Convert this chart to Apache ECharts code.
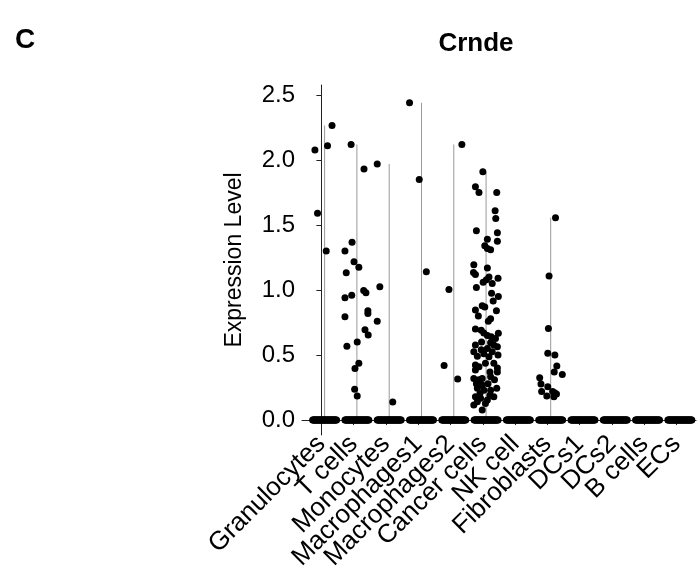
<!DOCTYPE html>
<html>
<head>
<meta charset="utf-8">
<script src="https://cdn.jsdelivr.net/npm/echarts@6/dist/echarts.min.js"></script>
<style>
html, body { margin: 0; padding: 0; background: #fff; }
#chart { width: 699px; height: 586px; }
</style>
</head>
<body>
<div id="chart"></div>
<script>
const cellTypes = ['Granulocytes', 'T cells', 'Monocytes', 'Macrophages1', 'Macrophages2', 'Cancer cells',
	'NK cell', 'Fibroblasts', 'DCs1', 'DCs2', 'B cells', 'ECs'];
const yTicks = [0, 0.5, 1, 1.5, 2, 2.5];
// cells with zero expression, drawn as a packed row of dots
const zeroCounts = [40, 40, 40, 40, 40, 40, 40, 40, 40, 40, 40, 40];

// expressing cells: [jitter, expression level]
const granulocytes = [[-0.30, 2.077], [0.09, 2.11], [0.23, 2.265], [-0.22, 1.59], [0.05, 1.30]];
const tCells = [[-0.18, 2.12], [0.22, 1.93], [-0.37, 1.30], [-0.15, 1.367], [-0.09, 1.218], [0.06, 1.175],
	[-0.33, 1.133], [-0.37, 0.94], [-0.16, 0.96], [-0.37, 0.795], [-0.31, 0.567], [0.01, 0.60],
	[-0.06, 0.397], [0.06, 0.436], [-0.07, 0.236], [0.01, 0.185], [0.21, 0.997], [0.28, 0.98],
	[0.34, 0.84], [0.34, 0.82], [0.25, 0.695], [0.35, 0.654]];
const monocytes = [[-0.37, 1.97], [-0.29, 1.025], [-0.37, 0.76], [0.11, 0.138]];
const macrophages1 = [[-0.37, 2.44], [-0.07, 1.85], [0.15, 1.14]];
const macrophages2 = [[0.25, 2.12], [-0.15, 1.005], [-0.30, 0.42], [0.12, 0.315]];
const cancerCells = [[-0.10, 1.91], [-0.33, 1.795], [-0.22, 1.75], [0.33, 1.75], [0.28, 1.61], [0.30, 1.55],
	[-0.30, 1.456], [0.04, 1.39], [0.35, 1.44], [0.35, 1.375], [-0.04, 1.34], [0.04, 1.32], [0.14, 1.31],
	[-0.38, 1.195], [-0.39, 1.135], [-0.33, 1.12], [0.04, 1.17], [0.09, 1.10], [-0.09, 1.06], [0.01, 1.08],
	[0.19, 1.05], [0.37, 1.09], [-0.30, 1.02], [0.17, 0.975], [0.38, 0.95], [0.22, 0.915], [-0.12, 0.88],
	[-0.04, 0.87], [-0.33, 0.846], [-0.24, 0.80], [0.32, 0.84], [0.14, 0.78], [0.07, 0.76], [-0.33, 0.70],
	[-0.15, 0.69], [0.38, 0.667], [-0.07, 0.67], [0.04, 0.65], [0.16, 0.64], [0.29, 0.628], [-0.14, 0.60],
	[-0.33, 0.577], [0.14, 0.595], [0.24, 0.577], [0.35, 0.564], [-0.38, 0.525], [-0.15, 0.54], [0.04, 0.55],
	[0.19, 0.525], [0.37, 0.50], [-0.27, 0.49], [-0.07, 0.51], [0.09, 0.487], [-0.33, 0.423], [-0.22, 0.41],
	[-0.02, 0.436], [0.24, 0.436], [0.35, 0.40], [-0.33, 0.385], [0.12, 0.37], [0.35, 0.37], [-0.38, 0.32],
	[-0.22, 0.31], [-0.12, 0.32], [0.14, 0.333], [0.26, 0.31], [-0.30, 0.28], [-0.12, 0.27], [0.06, 0.28],
	[0.33, 0.244], [-0.27, 0.244], [-0.07, 0.23], [0.14, 0.23], [0.24, 0.18], [-0.33, 0.18], [-0.17, 0.167],
	[0.04, 0.154], [-0.38, 0.115], [-0.27, 0.14], [-0.02, 0.128], [-0.12, 0.077], [0.12, 0.19], [-0.19, 0.205]];
const nkCell = [];
const fibroblasts = [[0.15, 1.556], [-0.05, 1.108], [-0.07, 0.705], [-0.09, 0.513], [0.13, 0.50], [0.19, 0.415],
	[0.11, 0.37], [0.36, 0.35], [-0.34, 0.325], [-0.30, 0.277], [-0.09, 0.256], [-0.28, 0.22], [0.06, 0.22],
	[0.12, 0.21], [0.18, 0.20], [-0.12, 0.185], [0.10, 0.18]];
const dcs1 = [];
const dcs2 = [];
const bCells = [];
const ecs = [];

const expressed = [granulocytes, tCells, monocytes, macrophages1, macrophages2, cancerCells,
	nkCell, fibroblasts, dcs1, dcs2, bCells, ecs];

const FONT = 'Liberation Sans, Arial, Helvetica, sans-serif';
const SHIFT = 0.1; // points/violins sit slightly right of the tick
const ZERO_SPREAD = 0.37;
const X_MIN = -0.6;
const X_MAX = cellTypes.length - 1 + 0.6;

let points = [];
let violins = [];
expressed.forEach((cells, i) => {
	let c = i + SHIFT;
	let n = zeroCounts[i];
	for (let k = 0; k < n; k++) {
		points.push([c - ZERO_SPREAD + (2 * ZERO_SPREAD * k) / (n - 1), 0]);
	}
	cells.forEach(p => points.push([c + p[0], p[1]]));
	if (cells.length) {
		violins.push([c, Math.max(...cells.map(p => p[1]))]);
	}
});

let tickPos = cellTypes.map((c, i) => i);
// blank labels at both ends so echarts does not drop the first/last real label
let labelPos = [X_MIN].concat(tickPos, [X_MAX]);

let chart = echarts.init(document.getElementById('chart'));
chart.setOption({
	animation: false,
	backgroundColor: '#fff',
	graphic: [
		{ type: 'text', x: 15, y: 26, style: { text: 'C', font: 'bold 28px ' + FONT, fill: '#000' } },
		{ type: 'text', x: 476, y: 44, style: { text: 'Crnde', font: 'bold 26px ' + FONT, fill: '#000', textAlign: 'center', textVerticalAlign: 'middle' } }
	],
	grid: { left: 302, right: 3, top: 85, bottom: 151, containLabel: false, outerBoundsMode: 'none' },
	xAxis: {
		type: 'value',
		min: X_MIN,
		max: X_MAX,
		splitLine: { show: false },
		axisLine: { lineStyle: { color: '#222', width: 1 } },
		axisTick: { length: 5, lineStyle: { color: '#222' }, customValues: tickPos },
		axisLabel: {
			customValues: labelPos,
			formatter: v => {
				let i = Math.round(v);
				return Math.abs(v - i) < 1e-6 && cellTypes[i] ? cellTypes[i] : '';
			},
			rotate: 45,
			margin: 5,
			fontSize: 26,
			color: '#000',
			fontFamily: FONT,
			hideOverlap: false
		}
	},
	yAxis: {
		type: 'value',
		min: -0.115,
		max: 2.577,
		name: 'Expression Level',
		nameLocation: 'middle',
		nameGap: 56,
		nameTextStyle: { fontSize: 23, color: '#000', fontFamily: FONT },
		splitLine: { show: false },
		axisLine: { show: true, lineStyle: { color: '#222', width: 1 } },
		axisTick: { show: true, length: 5, lineStyle: { color: '#222' }, customValues: yTicks },
		axisLabel: {
			customValues: yTicks,
			formatter: v => v.toFixed(1),
			margin: 7,
			fontSize: 24,
			color: '#000',
			fontFamily: FONT,
			showMinLabel: true,
			showMaxLabel: true
		}
	},
	series: [
		{
			type: 'custom',
			z: 1,
			silent: true,
			data: violins,
			encode: { x: 0, y: 1 },
			renderItem: (params, api) => {
				let p0 = api.coord([api.value(0), 0]);
				let p1 = api.coord([api.value(0), api.value(1)]);
				return {
					type: 'line',
					shape: { x1: p0[0], y1: p0[1], x2: p1[0], y2: p1[1] },
					style: { stroke: '#999', lineWidth: 1 }
				};
			}
		},
		{
			type: 'scatter',
			z: 2,
			silent: true,
			symbolSize: 7,
			itemStyle: { color: '#000', opacity: 1 },
			data: points
		}
	]
});
</script>
</body>
</html>
